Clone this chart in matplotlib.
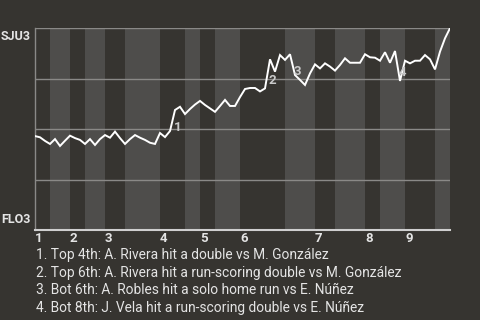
import numpy as np
import matplotlib
matplotlib.use("Agg")
import matplotlib.pyplot as plt
from matplotlib.transforms import blended_transform_factory


# plate appearances per half-inning (top 1st ... bot 9th)
half_inning_pas = [3, 4, 3, 4, 4, 7, 5, 3, 3, 5, 9, 6, 4, 6, 3, 5, 6, 3]
inning_labels = ["1", "2", "3", "4", "5", "6", "7", "8", "9"]

# SJU win probability after each plate appearance
win_prob = [
    0.465, 0.459, 0.441, 0.426, 0.450, 0.416, 0.442, 0.467, 0.455, 0.446,
    0.426, 0.450, 0.421, 0.450, 0.470, 0.457, 0.487, 0.455, 0.426, 0.450,
    0.470, 0.457, 0.446, 0.432, 0.426, 0.480, 0.460, 0.490, 0.594, 0.610,
    0.574, 0.599, 0.621, 0.639, 0.619, 0.602, 0.585, 0.614, 0.644, 0.614,
    0.614, 0.658, 0.698, 0.703, 0.703, 0.686, 0.701, 0.845, 0.784, 0.866,
    0.842, 0.870, 0.767, 0.743, 0.718, 0.775, 0.820, 0.800, 0.825, 0.809,
    0.789, 0.817, 0.850, 0.828, 0.828, 0.828, 0.870, 0.855, 0.853, 0.838,
    0.880, 0.828, 0.886, 0.738, 0.838, 0.825, 0.838, 0.838, 0.866, 0.845,
    0.795, 0.883, 0.949, 0.999,
]

# annotated events: index of the plate appearance that produced the swing
event_index = [28, 47, 52, 73]
event_text = [
    "1. Top 4th: A. Rivera hit a double vs M. González",
    "2. Top 6th: A. Rivera hit a run-scoring double vs M. González",
    "3. Bot 6th: A. Robles hit a solo home run vs E. Núñez",
    "4. Bot 8th: J. Vela hit a run-scoring double vs E. Núñez",
]

BG = "#363430"
LIGHT_BAND = "#4e4d4b"
GRID = "#8a8987"
TEXT = "#e4e4e4"
FONT = ["Roboto", "DejaVu Sans"]

plt.rcParams["font.family"] = FONT

fig = plt.figure(figsize=(4.8, 3.2), dpi=100, facecolor=BG)
ax = fig.add_axes([35 / 480, 90 / 320, 415 / 480, 202 / 320])
ax.set_facecolor(BG)

bounds = np.concatenate([[0], np.cumsum(half_inning_pas)])
n_pa = bounds[-1]
x = np.arange(len(win_prob))

# bottom half-innings get the lighter band
for k in range(len(half_inning_pas)):
    if k % 2 == 1:
        ax.axvspan(bounds[k], bounds[k + 1], color=LIGHT_BAND, lw=0, zorder=0)

for yv in [0.25, 0.5, 0.75, 1.0]:
    ax.axhline(yv, color=GRID, lw=1, zorder=1)

ax.plot(x, win_prob, color="white", lw=1.4, zorder=3, solid_joinstyle="miter")

for n, idx in enumerate(event_index):
    xm = (idx - 0.5)
    ym = (win_prob[idx - 1] + win_prob[idx]) / 2
    ax.annotate(
        str(n + 1), (xm, ym), xytext=(3.6, -5.0), textcoords="offset points",
        ha="center", va="center", fontsize=9.5, fontweight="bold",
        color="#c9c9c9", zorder=4,
    )

ax.set_xlim(0, n_pa)
ax.set_ylim(0, 1)

for side in ["top", "right"]:
    ax.spines[side].set_visible(False)
ax.spines["left"].set_color(GRID)
ax.spines["left"].set_linewidth(1)
ax.spines["bottom"].set_color("#cfcfcf")
ax.spines["bottom"].set_linewidth(1.5)

ax.set_yticks([])
ax.set_xticks(bounds[:-1:2])
ax.set_xticklabels(inning_labels, fontsize=9.5, fontweight="bold", color=TEXT)
for lab in ax.get_xticklabels():
    lab.set_horizontalalignment("left")
ax.tick_params(axis="x", length=0, pad=1.5)

tr = blended_transform_factory(fig.transFigure, ax.transAxes)
ax.text(31 / 480, 0.99, "SJU3", transform=tr, ha="right", va="top",
        fontsize=9, fontweight="bold", color=TEXT)
ax.text(31 / 480, 0.02, "FLO3", transform=tr, ha="right", va="bottom",
        fontsize=9, fontweight="bold", color=TEXT)

for n, line in enumerate(event_text):
    fig.text(36 / 480, 1 - (255 + 17.6 * n) / 320, line, ha="left",
             va="center", fontsize=9.9, color=TEXT)

fig.savefig("out.png", dpi=100, facecolor=BG)
